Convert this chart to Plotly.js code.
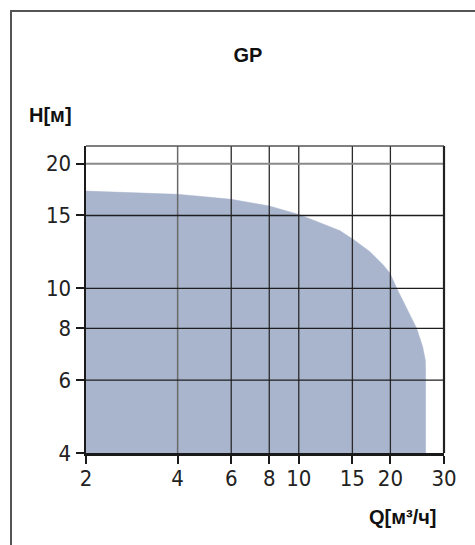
<!DOCTYPE html>
<html>
<head>
<meta charset="utf-8">
<script src="https://cdn.plot.ly/plotly-3.0.1.min.js"></script>
<style>
  html, body { margin: 0; padding: 0; background: #fff; }
  #wrap { position: relative; width: 475px; height: 545px; overflow: hidden; }
  #frame { position: absolute; left: 10px; top: 10px; width: 480px; height: 600px; border: 2px solid #555; box-sizing: border-box; pointer-events: none; }
  #chart { position: absolute; left: 0; top: 0; width: 475px; height: 545px; }
</style>
</head>
<body>
<div id="wrap">
  <div id="chart"></div>
  <div id="frame"></div>
</div>
<script>
// Pump curve GP: flow Q [m3/h] vs head H [m]
const flowQ = [2, 4, 4.9, 6, 8, 9.1, 10, 11.74, 13.66, 15.11, 17.14, 18.95, 19.94, 20.98, 22.73, 24.4, 25.53, 26.04, 26.1, 26.1];
const headH = [17.18, 16.87, 16.65, 16.41, 15.81, 15.39, 15.09, 14.4, 13.78, 13.13, 12.26, 11.38, 10.87, 10.0, 8.86, 8.0, 7.22, 6.71, 6.35, 4];
const baseH = 4;

const xTicks = [2, 4, 6, 8, 10, 15, 20, 30];
const xTickText = ['2', '4', '6', '8', '10', '15', '20', '30'];
const yTicks = [4, 6, 8, 10, 15, 20];
const yTickText = ['4', '6', '8', '10', '15', '20'];
const xGrid = [4, 6, 8, 10, 15, 20];
const yGrid = [6, 8, 10, 15, 20];

const xRange = [Math.log10(2), Math.log10(30)];
const yRange = [Math.log10(4), 1.344];

const polyX = flowQ.concat([flowQ[0]]);
const polyY = headH.concat([baseH]);

const tickFont = { family: '"Liberation Sans Narrow", "Arial Narrow", "DejaVu Sans Condensed", sans-serif', size: 22, color: '#222' };
const boldFont = { family: '"Liberation Sans", Arial, sans-serif', size: 20, color: '#111' };

const shapes = [];
xGrid.forEach(v => shapes.push({
  type: 'line', xref: 'x', yref: 'paper', x0: v, x1: v, y0: 0, y1: 1, layer: 'above',
  line: { color: v === 4 ? '#6a6a6a' : '#2a2a2a', width: v === 4 ? 1.5 : 1.3 }
}));
yGrid.forEach(v => shapes.push({
  type: 'line', xref: 'paper', yref: 'y', x0: 0, x1: 1, y0: v, y1: v, layer: 'above',
  line: { color: v === 20 ? '#8a8a8a' : '#1e1e1e', width: v === 20 ? 2 : 1.3 }
}));
// plot frame
shapes.push({ type: 'line', xref: 'paper', yref: 'paper', x0: 0, x1: 1, y0: 1, y1: 1, layer: 'above', line: { color: '#555', width: 1.5 } });
shapes.push({ type: 'line', xref: 'paper', yref: 'paper', x0: 1, x1: 1, y0: 0, y1: 1, layer: 'above', line: { color: '#222', width: 2.2 } });

const data = [{
  x: polyX, y: polyY, type: 'scatter', mode: 'lines', fill: 'toself',
  fillcolor: '#a9b4cd', line: { color: '#a9b4cd', width: 0.5, shape: 'linear' },
  hoverinfo: 'skip'
}];

const layout = {
  width: 475, height: 545,
  margin: { l: 86, r: 31, t: 146, b: 92 },
  paper_bgcolor: '#fff', plot_bgcolor: '#fff',
  showlegend: false,
  xaxis: {
    type: 'log', range: xRange, tickvals: xTicks, ticktext: xTickText,
    showgrid: false, zeroline: false,
    showline: true, linecolor: '#1a1a1a', linewidth: 2.5, mirror: false,
    ticks: 'outside', ticklen: 8, tickwidth: 2, tickcolor: '#1a1a1a',
    ticklabelstandoff: -4,
    tickfont: tickFont, fixedrange: true
  },
  yaxis: {
    type: 'log', range: yRange, tickvals: yTicks, ticktext: yTickText,
    showgrid: false, zeroline: false,
    showline: true, linecolor: '#1a1a1a', linewidth: 2.5,
    ticks: 'outside', ticklen: 8, tickwidth: 2, tickcolor: '#1a1a1a',
    tickfont: tickFont, fixedrange: true
  },
  title: {
    text: '<b>GP</b>', font: boldFont,
    xref: 'container', yref: 'container', x: 248 / 475, y: 1 - 55 / 545,
    xanchor: 'center', yanchor: 'middle'
  },
  annotations: [
    { text: '<b>H[м]</b>', xref: 'paper', yref: 'paper', x: (27 - 86) / 358, y: (453 - 115) / 307,
      xanchor: 'left', yanchor: 'middle', showarrow: false, font: boldFont },
    { text: '<b>Q[м³/ч]</b>', xref: 'paper', yref: 'paper', x: (439 - 86) / 358, y: (453 - 517) / 307,
      xanchor: 'right', yanchor: 'middle', showarrow: false, font: boldFont }
  ],
  shapes: shapes
};

Plotly.newPlot('chart', data, layout, { displayModeBar: false, staticPlot: true });
</script>
</body>
</html>
